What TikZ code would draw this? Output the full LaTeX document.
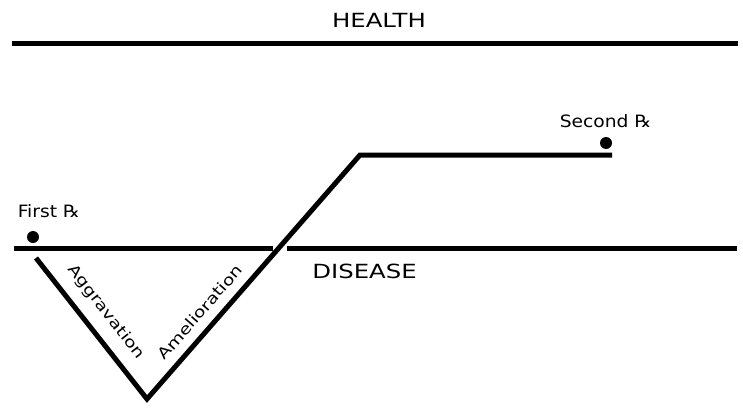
\documentclass[tikz,border=0pt]{standalone}
\usepackage{fontspec}
\setmainfont{DejaVu Sans}

\begin{document}
\begin{tikzpicture}[x=1pt, y=-1pt, line width=5pt,
    dot/.style={circle, fill, inner sep=0pt, minimum size=12pt},
    caps/.style={font=\fontsize{19.5}{20}\selectfont, xscale=1.25, inner sep=0pt},
    rxlbl/.style={font=\fontsize{17}{18}\selectfont, xscale=1.1, inner sep=0pt, anchor=base west},
    armlbl/.style={font=\fontsize{15}{16}\selectfont, xscale=1.25, inner sep=0pt}]
        \useasboundingbox (0,0) rectangle (743,407);
        \node[caps] (health) at (379,20.5) {HEALTH};
        \coordinate (hl) at (12,43);
        \coordinate (hr) at (738,43);
        \draw (hl) -- (hr);
        \coordinate (dl) at (14,248);
        \coordinate (gapl) at (273,248);
        \coordinate (gapr) at (287,248);
        \coordinate (dr) at (737,248);
        \draw (dl) -- (gapl);
        \draw (gapr) -- (dr);
        \node[caps] (disease) at (364.5,271) {DISEASE};
        \coordinate (start) at (36,258);
        \coordinate (low) at (147,399);
        \coordinate (turn) at (360,155);
        \coordinate (plateau) at (612,155);
        \draw[line join=miter] (start) -- (low) -- (turn) -- (plateau);
        \node[rotate=-51.8, armlbl] (aggr) at (106,312) {Aggravation};
        \node[rotate=48.9, armlbl] (amel) at (200,312) {Amelioration};
        \node[dot] (firstdot) at (33,237) {};
        \node[rxlbl] (first) at (15,217) {First ℞};
        \node[dot] (seconddot) at (606,143) {};
        \node[rxlbl] (second) at (557,127) {Second ℞};
    \end{tikzpicture}
\end{document}
